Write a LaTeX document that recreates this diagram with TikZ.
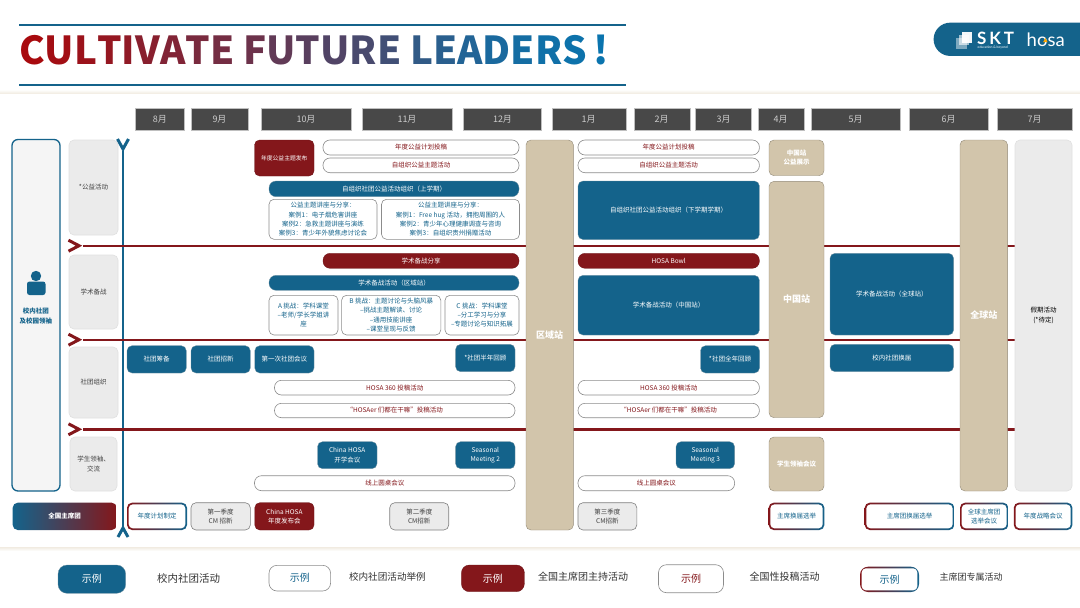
\documentclass[tikz,border=0pt]{standalone}
\usepackage{fontspec}
\setmainfont{Noto Sans CJK SC}
\newfontfamily\logofont{Lato}
\usetikzlibrary{shapes.misc}
\definecolor{hosablue}{HTML}{14638B}
\definecolor{hosared}{HTML}{84171B}
\definecolor{titleblue}{HTML}{0A74AE}
\definecolor{titlered}{HTML}{A80A0E}
\definecolor{hosatan}{HTML}{D2C5AB}
\definecolor{paleband}{HTML}{F1EBE1}
\definecolor{monthgrey}{HTML}{484848}
\definecolor{palegrey}{HTML}{EBEBEB}
\newcommand{\tl}[2]{\textcolor{titleblue!#1!titlered}{#2}}
\tikzset{
  bluebox/.style={
    rectangle,
    rounded corners=5pt,
    fill=hosablue,
    draw=hosablue!70!black!60,
    line width=0.3pt,
    text=white
    },
  bluepill/.style={
    bluebox,
    rounded corners=7pt
    },
  redbox/.style={
    rectangle,
    rounded corners=5pt,
    fill=hosared,
    draw=hosared!80!black,
    line width=0.3pt,
    text=white
    },
  redpill/.style={
    redbox,
    rounded corners=7pt
    },
  whitepill/.style={
    rectangle,
    rounded corners=7pt,
    fill=white,
    draw=black!45,
    line width=0.6pt,
    text=hosared
    },
  infobox/.style={
    rectangle,
    rounded corners=5pt,
    fill=white,
    draw=black!45,
    line width=0.6pt,
    text=hosablue
    },
  tanbox/.style={
    rectangle,
    rounded corners=5pt,
    fill=hosatan,
    draw=hosatan!70!black,
    line width=0.4pt,
    text=white
    },
  catbox/.style={
    rectangle,
    rounded corners=5pt,
    fill=palegrey,
    draw=black!12,
    line width=0.6pt,
    text=black!75
    },
  cmbox/.style={
    rectangle,
    rounded corners=5pt,
    fill=palegrey,
    draw=black!50,
    line width=0.6pt,
    text=black!75
    },
  monthbar/.style={
    rectangle,
    fill=monthgrey,
    draw=black!25,
    line width=0.4pt,
    minimum height=22pt,
    text=black!20,
    font=\fontsize{9}{10}\selectfont
    },
  chairbox/.style={
    rectangle,
    rounded corners=5pt,
    left color=hosared,
    right color=hosablue,
    text=hosablue,
    path picture={
      \fill[white,rounded corners=4pt]
        ([xshift=1.7pt,yshift=1.7pt]path picture bounding box.south west) rectangle
        ([xshift=-1.7pt,yshift=-1.7pt]path picture bounding box.north east);
      }
    },
  legendtext/.style={
    text=black!80,
    font=\fontsize{10}{12}\selectfont
    },
  redline/.style={draw=hosared,line width=2.4pt},
  blueline/.style={draw=hosablue,line width=2.5pt},
  chevron/.style={line width=3pt,miter limit=10}
}
\begin{document}
\begin{tikzpicture}[
  x=1pt,
  y=-1pt,
  every node/.style={inner sep=0pt,align=center,font=\fontsize{6.5}{9.3}\selectfont}
  ]
\useasboundingbox (0,0) rectangle (1080,608);
\fill[white] (0,0) rectangle (1080,608);

\fill[top color=white,bottom color=paleband] (0,89.5) rectangle (1080,93.5);
\fill[top color=paleband,bottom color=white] (0,547) rectangle (1080,551);

\coordinate (ruleAl) at (19,24.5);
\coordinate (ruleAr) at (626,24.5);
\coordinate (ruleBl) at (19,85);
\coordinate (ruleBr) at (626,85);
\draw[hosablue,line width=2pt] (ruleAl) -- (ruleAr);
\draw[hosablue,line width=2pt] (ruleBl) -- (ruleBr);
\node (title) [anchor=west,font=\bfseries\fontsize{38.5}{40}\selectfont] at (19,50.5) {\tl{0}{C}\tl{4}{U}\tl{8}{L}\tl{12}{T}\tl{15}{I}\tl{20}{V}\tl{25}{A}\tl{30}{T}\tl{33}{E} \tl{38}{F}\tl{45}{U}\tl{50}{T}\tl{55}{U}\tl{60}{R}\tl{65}{E} \tl{75}{L}\tl{80}{E}\tl{85}{A}\tl{90}{D}\tl{93}{E}\tl{96}{R}\tl{98}{S}\,\tl{100}{!}};

\node (logo) [rounded rectangle,rounded rectangle right arc=none,fill=hosablue,minimum width=146.4pt,minimum height=33.3pt] at (1006.8,39.3) {};
\fill[white,opacity=.45] (956,38) rectangle (967,48.5);
\fill[white,opacity=.6] (958.5,35) rectangle (969,45);
\fill[white,opacity=.95] (961.5,32) rectangle (972,43);
\node (skt) [anchor=west,text=white,font=\logofont\bfseries\fontsize{17}{18}\selectfont] at (977,38.3) {S\,K\,T};
\node (sktsub) [anchor=west,text=white,font=\logofont\fontsize{3.4}{4}\selectfont] at (977.5,47.8) {education \& beyond};
\node (hosa) [anchor=west,text=white,font=\logofont\fontsize{18.5}{20}\selectfont] at (1026.5,39.5) {hosa};
\fill[orange!70!yellow] (1043.2,42) -- (1045.4,38) -- (1047.6,42) -- cycle;

\foreach \m/\cx/\w in {8/159.8/49.6,9/219.5/57,10/306/90,11/407/90.5,12/502.5/78,1/588.7/74,2/661.7/56,3/723.5/56,4/780.7/46,5/855.5/88.5,6/948.7/79.3,7/1034.5/74.4}
  \node (month\m) [monthbar,minimum width=\w pt] at (\cx,119) {\m 月};

\coordinate (axistop) at (123,151);
\coordinate (axisbot) at (123,527);
\draw[blueline] (axistop) -- (axisbot);
\draw[blueline,chevron] ([shift={(-5.5,-12)}]axistop) -- ([shift={(0,-2)}]axistop) -- ([shift={(5.5,-12)}]axistop);
\draw[blueline,chevron] ([shift={(-5,10)}]axisbot) -- ([shift={(0,1)}]axisbot) -- ([shift={(5,10)}]axisbot);

\foreach \i/\y in {1/245.7,2/339.7,3/429.3}{
  \coordinate (line\i l) at (83,\y);
  \coordinate (line\i r) at (1014.5,\y);
  \draw[redline] (line\i l) -- (line\i r);
  \draw[redline,chevron] ([shift={(-14.5,-5.5)}]line\i l) -- ([shift={(-4,0)}]line\i l) -- ([shift={(-14.5,5.5)}]line\i l);
}

\node (campus) [rectangle,rounded corners=6pt,fill=black!4,draw=hosablue,line width=1.3pt,minimum width=48pt,minimum height=351.5pt] at (36,315.25) {};
\fill[hosablue] (36,276) circle (5.2pt);
\fill[hosablue,rounded corners=2.5pt] (27,281.5) rectangle (45.5,295);
\node (campustext) [text=hosablue,font=\bfseries\fontsize{6.5}{9.6}\selectfont] at (36,316) {校内社团\\及校园领袖};

\node (catpublic) [catbox,minimum width=49pt,minimum height=95pt] at (93.5,187.5) {*公益活动};
\node (catacademic) [catbox,minimum width=49pt,minimum height=74pt] at (93.5,292) {学术备战};
\node (catclub) [catbox,minimum width=49pt,minimum height=71pt] at (93.5,382.5) {社团组织};
\node (catleader) [catbox,minimum width=47pt,minimum height=54pt] at (93.5,464) {学生领袖、\\交流};

\node (regional) [tanbox,minimum width=47.4pt,minimum height=390pt,font=\bfseries\fontsize{9}{10}\selectfont] at (549.7,335) {区域站};
\node (chinashow) [tanbox,minimum width=55pt,minimum height=35.7pt,font=\bfseries\fontsize{6.5}{9.3}\selectfont] at (796.5,157.85) {中国站\\公益展示};
\node (chinastage) [tanbox,minimum width=55pt,minimum height=236.4pt,font=\bfseries\fontsize{9}{10}\selectfont] at (796.5,299.5) {中国站};
\node (leadermeet) [tanbox,minimum width=55pt,minimum height=54pt,font=\bfseries\fontsize{6.5}{9.3}\selectfont] at (796.5,464) {学生领袖会议};
\node (global) [tanbox,minimum width=47.6pt,minimum height=351pt,font=\bfseries\fontsize{9}{10}\selectfont] at (983.8,315.5) {全球站};
\node (holiday) [catbox,text=black,minimum width=57pt,minimum height=351pt] at (1043.5,315.5) {假期活动\\(*待定)};

\node (theme) [redbox,minimum width=59.5pt,minimum height=36pt,font=\fontsize{5.8}{8}\selectfont] at (284.25,158) {年度公益主题发布};
\node (planA) [whitepill,minimum width=196pt,minimum height=15pt] at (421,147.5) {年度公益计划投稿};
\node (selfA) [whitepill,minimum width=196pt,minimum height=14.7pt] at (421,165.35) {自组织公益主题活动};
\node (planB) [whitepill,minimum width=181.4pt,minimum height=15pt] at (668.7,147.5) {年度公益计划投稿};
\node (selfB) [whitepill,minimum width=181.4pt,minimum height=14.7pt] at (668.7,165.35) {自组织公益主题活动};
\node (organA) [bluepill,minimum width=250pt,minimum height=15.7pt] at (394,188.85) {自组织社团公益活动组织（上学期）};
\node (organB) [bluebox,minimum width=181.4pt,minimum height=58.5pt] at (668.7,210.25) {自组织社团公益活动组织（下学期学期）};
\node (caseA) [infobox,minimum width=108pt,minimum height=40pt] at (323,219.3) {公益主题讲座与分享：\\案例1：电子烟危害讲座\\案例2：急救主题讲座与演练\\案例3：青少年外貌焦虑讨论会};
\node (caseB) [infobox,minimum width=138pt,minimum height=40pt] at (450.5,219.3) {公益主题讲座与分享：\\案例1：Free hug 活动，拥抱周围的人\\案例2：青少年心理健康调查与咨询\\案例3：自组织贵州捐赠活动};

\node (share) [redpill,minimum width=196pt,minimum height=15pt] at (421,260.8) {学术备战分享};
\node (bowl) [redpill,minimum width=181.4pt,minimum height=15pt] at (668.7,260.8) {HOSA Bowl};
\node (prepA) [bluepill,minimum width=250pt,minimum height=15pt] at (394,282.8) {学术备战活动（区域站）};
\node (prepB) [bluebox,minimum width=181.4pt,minimum height=59.7pt] at (668.7,305.15) {学术备战活动（中国站）};
\node (prepC) [bluebox,minimum width=123.6pt,minimum height=81.7pt] at (891.8,294.15) {学术备战活动（全球站）};
\node (trackA) [infobox,minimum width=69pt,minimum height=39.7pt] at (303.5,315.15) {A 挑战：学科课堂\\--老师/学长学姐讲\\座};
\node (trackB) [infobox,minimum width=99.2pt,minimum height=39.7pt] at (391.2,315.15) {B 挑战：主题讨论与头脑风暴\\--挑战主题解读、讨论\\--通用技能讲座\\--课堂呈现与反馈};
\node (trackC) [infobox,minimum width=74pt,minimum height=39.7pt] at (482,315.15) {C 挑战：学科课堂\\--分工学习与分享\\--专题讨论与知识拓展};

\node (prepare) [bluebox,minimum width=59.3pt,minimum height=27.3pt] at (156.65,359.35) {社团筹备};
\node (recruit) [bluebox,minimum width=59.3pt,minimum height=27.3pt] at (220.65,359.35) {社团招新};
\node (firstmeet) [bluebox,minimum width=59.3pt,minimum height=27.3pt] at (284.4,359.35) {第一次社团会议};
\node (halfreview) [bluebox,minimum width=59.4pt,minimum height=27.4pt] at (485.3,358) {*社团半年回顾};
\node (fullreview) [bluebox,minimum width=59pt,minimum height=27.3pt] at (730,359.35) {*社团全年回顾};
\node (handover) [bluebox,minimum width=123.6pt,minimum height=27.4pt] at (891.8,358) {校内社团换届};
\node (hosaA) [whitepill,minimum width=240.5pt,minimum height=14.7pt] at (394.75,387.65) {HOSA 360 投稿活动};
\node (hosaB) [whitepill,minimum width=181.4pt,minimum height=14.7pt] at (668.7,387.65) {HOSA 360 投稿活动};
\node (busyA) [whitepill,minimum width=240.5pt,minimum height=14.4pt] at (394.75,410.5) {“HOSAer 们都在干嘛”投稿活动};
\node (busyB) [whitepill,minimum width=181.4pt,minimum height=14.4pt] at (668.7,410.5) {“HOSAer 们都在干嘛”投稿活动};

\node (opening) [bluebox,minimum width=59.5pt,minimum height=27pt] at (347.25,455.2) {China HOSA\\开学会议};
\node (seasonB) [bluebox,minimum width=59.4pt,minimum height=27pt] at (485.3,455.2) {Seasonal\\Meeting 2};
\node (seasonC) [bluebox,minimum width=58.6pt,minimum height=27pt] at (705.3,455.2) {Seasonal\\Meeting 3};
\node (roundA) [whitepill,minimum width=260.5pt,minimum height=15pt] at (384.75,483.2) {线上圆桌会议};
\node (roundB) [whitepill,minimum width=156.6pt,minimum height=15pt] at (656.3,483.2) {线上圆桌会议};

\node (chairs) [rectangle,rounded corners=5pt,left color=hosablue,right color=hosared,text=white,minimum width=104pt,minimum height=27.3pt,font=\bfseries\fontsize{6.5}{9.3}\selectfont] at (64.7,516.35) {全国主席团};
\node (yearplan) [chairbox,minimum width=60pt,minimum height=27.3pt] at (157,516.35) {年度计划制定};
\node (cmA) [cmbox,minimum width=59.3pt,minimum height=27.3pt] at (220.65,516.35) {第一季度\\CM 招新};
\node (launch) [redbox,minimum width=59.3pt,minimum height=27.3pt] at (284.4,516.35) {China HOSA\\年度发布会};
\node (cmB) [cmbox,minimum width=59pt,minimum height=27.3pt] at (419.25,516.35) {第二季度\\CM招新};
\node (cmC) [cmbox,minimum width=58.8pt,minimum height=27.3pt] at (607.4,516.35) {第三季度\\CM招新};
\node (vote) [chairbox,minimum width=55.7pt,minimum height=27.3pt] at (796.5,516.35) {主席换届选举};
\node (teamvote) [chairbox,minimum width=89.6pt,minimum height=27.3pt] at (909.5,516.35) {主席团换届选举};
\node (globalvote) [chairbox,minimum width=48.3pt,minimum height=27.3pt] at (984.15,516.35) {全球主席团\\选举会议};
\node (strategy) [chairbox,minimum width=58.6pt,minimum height=27.3pt] at (1043.1,516.35) {年度战略会议};

\node (keyA) [bluebox,rounded corners=9pt,minimum width=67.7pt,minimum height=28.3pt,font=\fontsize{10}{12}\selectfont] at (91.85,579.15) {示例};
\node (keyAtext) [legendtext,font=\fontsize{10.5}{12}\selectfont] at (188.7,578) {校内社团活动};
\node (keyB) [infobox,rounded corners=8pt,minimum width=61.6pt,minimum height=25.7pt,font=\fontsize{10}{12}\selectfont] at (299.8,578.15) {示例};
\node (keyBtext) [legendtext,font=\fontsize{9.6}{12}\selectfont] at (387.4,577) {校内社团活动举例};
\node (keyC) [redbox,rounded corners=8pt,minimum width=63pt,minimum height=26.7pt,font=\fontsize{10}{12}\selectfont] at (492.9,578.35) {示例};
\node (keyCtext) [legendtext] at (583,577) {全国主席团主持活动};
\node (keyD) [whitepill,rounded corners=8pt,minimum width=65pt,minimum height=28pt,font=\fontsize{10}{12}\selectfont] at (691,578.7) {示例};
\node (keyDtext) [legendtext] at (784.5,577) {全国性投稿活动};
\node (keyE) [chairbox,rounded corners=8pt,minimum width=59pt,minimum height=25.3pt,font=\fontsize{10}{12}\selectfont] at (889.5,579.35) {示例};
\node (keyEtext) [legendtext,font=\fontsize{9}{12}\selectfont] at (971,577) {主席团专属活动};
\end{tikzpicture}
\end{document}
